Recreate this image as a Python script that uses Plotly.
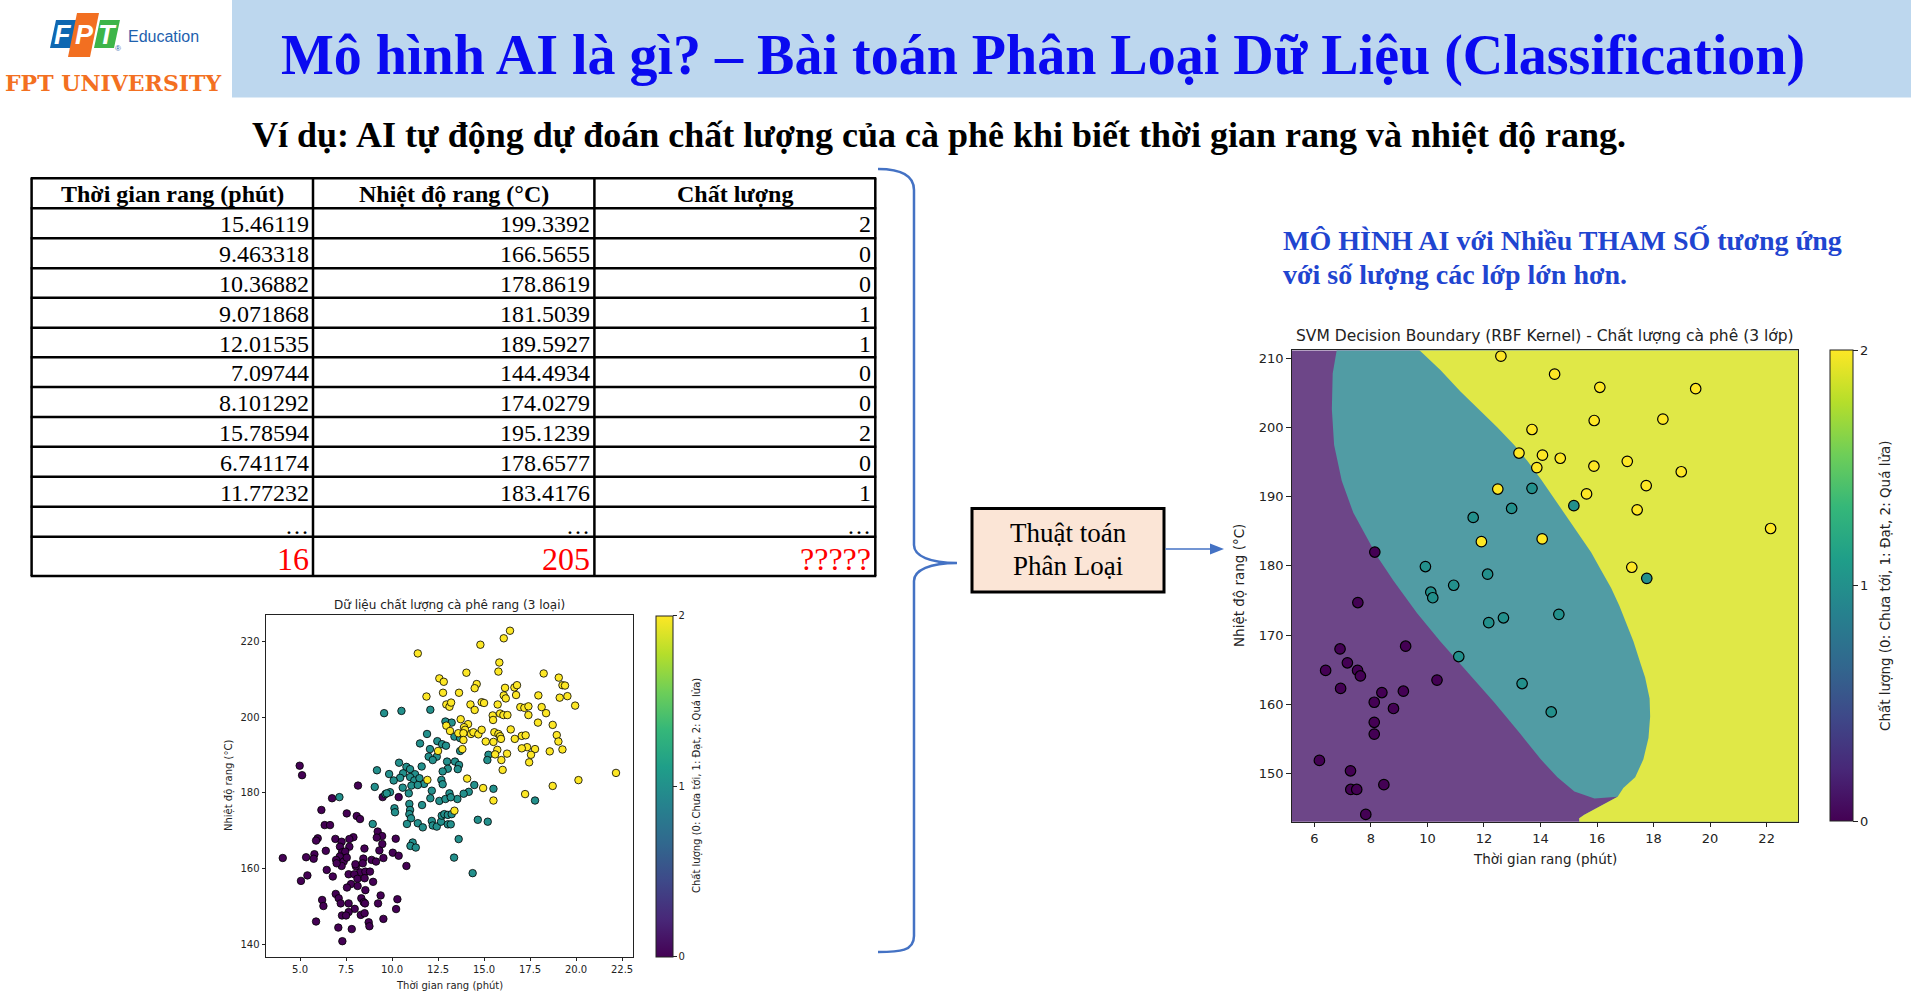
import plotly.graph_objects as go

W, H = 1911, 995
def fx(x): return x / W
def fy(y): return 1 - y / H

# ---------------- table data ----------------
table_headers = ["Thời gian rang (phút)", "Nhiệt độ rang (°C)", "Chất lượng"]
roast_time = ["15.46119", "9.463318", "10.36882", "9.071868", "12.01535", "7.09744",
              "8.101292", "15.78594", "6.741174", "11.77232", "…"]
roast_temp = ["199.3392", "166.5655", "178.8619", "181.5039", "189.5927", "144.4934",
              "174.0279", "195.1239", "178.6577", "183.4176", "…"]
quality = ["2", "0", "0", "1", "1", "0", "0", "2", "0", "1", "…"]
query_row = ["16", "205", "?????"]

# ---------------- small scatter (full data set) ----------------
s0_x = [4.98, 5.11, 8.15, 6.74, 9.49, 10.36, 6.16, 7.54, 8.08, 8.26, 6.34, 6.63, 9.22, 9.46, 9.17,
        10.20, 7.90, 7.68, 5.96, 5.87, 6.92, 7.26, 7.17, 7.68, 9.47, 8.50, 6.40, 7.28, 7.46, 9.31,
        10.04, 10.36, 5.78, 5.33, 5.74, 4.06, 7.16, 6.96, 7.37, 7.54, 8.44, 8.89, 9.13, 9.53, 7.26,
        6.99, 8.04, 8.01, 8.41, 8.26, 8.55, 8.80, 6.45, 6.78, 7.64, 7.95, 8.12, 8.51, 8.97, 10.78,
        5.40, 5.05, 7.77, 7.55, 8.13, 8.55, 6.94, 7.10, 6.20, 6.27, 7.21, 7.64, 8.33, 8.46, 8.53,
        9.24, 9.38, 10.29, 10.22, 7.97, 7.64, 7.28, 7.50, 8.30, 8.51, 9.53, 5.87, 8.73, 8.77, 7.08,
        7.81, 7.30]
s0_y = [187.2, 184.7, 181.95, 178.6, 178.9, 178.9, 175.5, 174.6, 173.9, 173.1, 171.5, 171.5, 169.8,
        168.6, 168.2, 167.9, 168.3, 167.8, 168.0, 167.4, 167.85, 167.1, 165.8, 165.8, 166.5, 165.3,
        164.7, 164.3, 164.5, 164.8, 164.2, 163.4, 163.8, 163.0, 162.6, 162.8, 163.2, 162.3, 161.85,
        162.9, 162.65, 162.3, 161.85, 162.8, 160.7, 161.4, 160.6, 161.15, 161.4, 159.0, 159.2, 159.2,
        159.65, 157.9, 158.5, 158.5, 157.3, 157.45, 156.5, 160.7, 158.2, 156.75, 155.9, 155.0, 155.4,
        154.3, 153.3, 152.15, 151.7, 150.1, 150.8, 150.8, 152.15, 151.1, 150.8, 150.8, 152.9, 151.9,
        149.3, 149.35, 148.5, 147.6, 147.6, 147.75, 148.2, 146.7, 146.0, 145.8, 144.75, 144.4, 144.0,
        140.8]

s1_x = [9.57, 10.51, 12.08, 12.90, 11.90, 11.52, 12.46, 12.72, 12.93, 12.06, 11.99, 12.43, 12.21,
        12.99, 13.03, 12.75, 10.38, 11.61, 10.78, 10.98, 9.18, 9.84, 10.60, 11.25, 10.98, 10.44,
        10.09, 11.21, 11.49, 11.74, 12.68, 12.75, 11.05, 11.40, 10.58, 9.06,
        13.24, 13.39, 13.70, 13.70, 15.24, 15.18, 13.42, 13.64, 13.57,
        9.64, 9.89, 9.71, 10.91, 11.63, 12.08, 12.16, 12.57, 12.90, 13.12, 10.94, 10.13, 10.16,
        10.98, 10.94, 11.03, 10.81, 11.40, 11.67, 12.16, 12.21, 12.43, 12.66, 12.70, 12.84, 13.03,
        13.03, 8.95, 11.12, 11.00, 11.29, 7.14,
        14.47, 15.51, 14.17, 13.89, 13.55, 13.19, 13.24, 14.66, 15.20, 13.19, 13.62, 13.37, 14.38,
        17.77]
s1_y = [201.1, 201.7, 202.0, 198.9, 195.6, 193.1, 193.7, 192.9, 192.5, 191.6, 189.6, 189.6, 188.7,
        188.3, 186.4, 185.7, 188.0, 187.0, 186.9, 186.3, 186.0, 185.0, 185.2, 184.95, 184.2, 184.0,
        183.3, 183.3, 183.9, 182.4, 183.45, 182.3, 181.95, 182.1, 181.4, 181.6,
        198.6, 194.9, 194.5, 191.1, 190.1, 188.7, 188.3, 187.4, 186.3,
        179.7, 180.2, 179.9, 179.9, 176.8, 178.6, 180.6, 177.9, 178.4, 179.9, 177.1, 175.95, 174.9,
        175.5, 174.4, 173.3, 171.8, 172.0, 170.9, 172.6, 171.4, 171.1, 172.4, 174.0, 174.4, 174.2,
        171.7, 171.8, 166.9, 166.0, 165.56, 178.9,
        182.1, 181.1, 180.3, 179.8, 178.4, 178.86, 174.4, 172.9, 172.4, 171.7, 167.8, 162.9, 158.8,
        178.0]

s2_x = [11.40, 12.57, 12.81, 11.87, 12.77, 12.95, 13.12, 12.95, 13.15, 12.50, 11.92,
        16.41, 16.07, 14.80, 15.83, 15.78, 14.04, 18.24, 19.06, 19.26, 19.40, 14.60, 14.49, 16.14,
        16.65, 16.79, 13.64, 16.07, 16.18, 16.74, 17.95, 19.11, 19.53, 13.21, 14.26, 14.49, 14.87,
        15.00, 15.74, 16.97, 17.19, 17.41, 18.13, 18.37, 19.95, 15.47, 15.49, 15.87, 16.05, 16.27,
        17.41, 13.73, 14.13, 13.91, 13.97, 17.93, 18.73, 16.45, 13.60, 13.88, 14.29, 14.42, 14.69,
        14.87, 15.56, 15.78, 15.87, 17.05, 17.26, 16.67, 15.09, 15.51, 15.92, 18.95, 19.04, 13.88,
        17.34, 17.05, 17.77, 15.72, 16.25, 15.60, 18.57, 19.26, 17.55, 15.94, 17.45, 16.01, 22.17,
        20.13, 14.08, 13.82,
        14.95, 17.23, 15.51, 13.39, 18.73]
s2_y = [216.9, 210.3, 209.4, 205.5, 206.5, 203.4, 202.8, 197.8, 196.4, 191.1, 183.45,
        222.9, 220.9, 219.2, 214.5, 212.1, 211.8, 211.6, 210.5, 208.5, 208.4, 208.8, 207.7, 207.8,
        207.9, 208.5, 206.5, 205.8, 205.0, 205.9, 205.8, 205.2, 205.6, 203.9, 203.4, 201.95, 204.0,
        203.8, 203.4, 202.7, 202.5, 202.9, 202.7, 201.1, 203.1, 200.5, 199.3, 201.0, 200.6, 200.6,
        200.6, 199.5, 198.2, 197.4, 196.7, 198.6, 198.0, 196.8, 195.8, 195.8, 195.6, 196.05, 195.5,
        196.7, 196.05, 195.6, 195.0, 195.1, 195.25, 194.3, 193.6, 193.5, 194.3, 195.3, 193.6, 194.0,
        192.1, 191.8, 191.6, 191.4, 190.4, 190.2, 191.0, 191.5, 190.1, 188.7, 188.1, 186.1, 185.3,
        183.4, 183.8, 191.6,
        181.3, 179.7, 178.0, 175.3, 181.86]

small_xticks = [5.0, 7.5, 10.0, 12.5, 15.0, 17.5, 20.0, 22.5]
small_xticklabels = ["5.0", "7.5", "10.0", "12.5", "15.0", "17.5", "20.0", "22.5"]
small_yticks = [140, 160, 180, 200, 220]

# ---------------- SVM test points ----------------
t0_x = [8.14, 7.54, 9.23, 6.91, 7.17, 6.40, 7.53, 7.63, 6.93, 10.34, 8.39, 9.15, 8.12, 8.80, 8.12,
        8.12, 6.18, 7.28, 7.29, 7.50, 8.46, 7.82]
t0_y = [182.0, 174.7, 168.4, 168.0, 166.0, 164.9, 164.9, 164.1, 162.3, 163.5, 161.7, 161.9, 160.3,
        159.4, 157.4, 155.7, 151.9, 150.4, 147.7, 147.7, 148.4, 144.1]
t1_x = [13.70, 12.98, 15.18, 11.62, 9.93, 12.13, 10.93, 10.12, 10.19, 14.65, 12.69, 12.17, 11.11,
        13.35, 14.38, 17.76]
t1_y = [191.2, 188.3, 188.7, 187.0, 179.9, 178.8, 177.2, 176.2, 175.4, 173.0, 172.5, 171.8, 166.9,
        163.0, 158.9, 178.2]
t2_x = [12.6, 14.5, 16.1, 15.9, 13.7, 13.24, 14.07, 14.70, 13.87, 15.89, 17.07, 15.63, 12.49, 11.91,
        14.06, 17.23, 17.42, 19.49, 18.33, 18.98, 17.74, 22.14]
t2_y = [210.3, 207.7, 205.8, 201.0, 199.7, 196.3, 196.0, 195.55, 194.2, 194.4, 195.1, 190.4, 191.1,
        183.5, 183.9, 179.8, 188.1, 205.6, 201.2, 193.6, 191.6, 185.4]

big_xticks = [6, 8, 10, 12, 14, 16, 18, 20, 22]
big_yticks = [150, 160, 170, 180, 190, 200, 210]

# decision boundaries
pt_x = [6.80, 6.79, 6.65, 6.62, 6.70, 6.97, 7.38, 7.86, 8.21, 8.80, 9.63, 10.46, 11.41, 12.36,
        13.30, 14.01, 14.60, 15.20, 15.91, 16.73]
pt_y = [212.0, 211.13, 207.78, 202.62, 197.46, 192.31, 187.66, 184.05, 181.47, 177.86, 173.21,
        169.08, 164.70, 160.31, 155.67, 152.05, 149.47, 147.41, 146.38, 146.64]
ty_x = [9.50, 9.73, 10.46, 11.17, 11.88, 12.47, 13.07, 13.54, 14.01, 14.49, 14.96, 15.37, 15.79,
        16.14, 16.50, 16.79, 17.05, 17.29, 17.53, 17.70, 17.86, 17.88, 17.82, 17.64, 17.35, 16.93,
        16.73]
ty_y = [212.0, 211.13, 208.30, 205.20, 202.36, 200.04, 197.46, 195.14, 192.56, 189.72, 186.88,
        184.56, 181.98, 179.40, 176.82, 174.24, 171.66, 169.08, 165.99, 163.92, 160.83, 158.25,
        155.15, 152.05, 149.47, 147.93, 146.64]
py_x = [16.14, 15.55, 15.37, 15.37]
py_y = [145.35, 144.06, 143.54, 142.5]
outer_x = [24.0, 24.0]
outer_y = [142.5, 212.0]

# ---------------- styles ----------------
PURPLE_BG = "#6D4688"
TEAL_BG = "#519CA4"
YELLOW_BG = "#E0E847"
DV = "DejaVu Sans"
SERIF = "Liberation Serif"

fig = go.Figure()

# small scatter
sx = s0_x + s1_x + s2_x
sy = s0_y + s1_y + s2_y
sc = [0] * len(s0_x) + [1] * len(s1_x) + [2] * len(s2_x)
fig.add_trace(go.Scatter(
    x=sx, y=sy, mode="markers", xaxis="x", yaxis="y", hoverinfo="skip",
    marker=dict(size=7.5, color=sc, colorscale="Viridis", cmin=0, cmax=2,
                line=dict(color="black", width=0.8), showscale=True,
                colorbar=dict(x=fx(655.7), xanchor="left", y=fy(615.7), yanchor="top",
                              len=(956.7 - 615.7) / H, lenmode="fraction",
                              thickness=17, thicknessmode="pixels", xpad=0, ypad=0,
                              outlinewidth=1, outlinecolor="#222",
                              tickvals=[0, 1, 2], ticks="outside", ticklen=3.5, tickwidth=1,
                              tickcolor="#222", tickfont=dict(family=DV, size=10, color="#222")))))

# decision regions
fig.add_trace(go.Scatter(x=pt_x + py_x + outer_x, y=pt_y + py_y + outer_y, fill="toself",
                         fillcolor=TEAL_BG, mode="lines", line=dict(width=0),
                         xaxis="x2", yaxis="y2", hoverinfo="skip"))
fig.add_trace(go.Scatter(x=ty_x + py_x + outer_x, y=ty_y + py_y + outer_y, fill="toself",
                         fillcolor=YELLOW_BG, mode="lines", line=dict(width=0),
                         xaxis="x2", yaxis="y2", hoverinfo="skip"))

tx = t0_x + t1_x + t2_x
ty = t0_y + t1_y + t2_y
tc = [0] * len(t0_x) + [1] * len(t1_x) + [2] * len(t2_x)
fig.add_trace(go.Scatter(
    x=tx, y=ty, mode="markers", xaxis="x2", yaxis="y2", hoverinfo="skip",
    marker=dict(size=10.5, color=tc, colorscale="Viridis", cmin=0, cmax=2,
                line=dict(color="black", width=1.2), showscale=True,
                colorbar=dict(x=fx(1830), xanchor="left", y=fy(350.4), yanchor="top",
                              len=(821.8 - 350.4) / H, lenmode="fraction",
                              thickness=23, thicknessmode="pixels", xpad=0, ypad=0,
                              outlinewidth=1, outlinecolor="#222",
                              tickvals=[0, 1, 2], ticks="outside", ticklen=4.5, tickwidth=1.2,
                              tickcolor="#222", tickfont=dict(family=DV, size=13, color="#222")))))

axis_common = dict(showline=True, mirror=True, linecolor="#222", linewidth=1, ticks="outside",
                   tickcolor="#222", tickwidth=1, showgrid=False, zeroline=False)

fig.update_layout(
    width=W, height=H, margin=dict(l=0, r=0, t=0, b=0), autosize=False,
    paper_bgcolor="white", plot_bgcolor="white", showlegend=False,
    xaxis=dict(domain=[fx(266), fx(633.3)], range=[3.15, 23.11], anchor="y",
               tickvals=small_xticks, ticktext=small_xticklabels, ticklen=3.5,
               tickfont=dict(family=DV, size=10, color="#222"), **axis_common),
    yaxis=dict(domain=[fy(956.7), fy(615)], range=[136.7, 227.06], anchor="x",
               tickvals=small_yticks, ticklen=3.5,
               tickfont=dict(family=DV, size=10, color="#222"), **axis_common),
    xaxis2=dict(domain=[fx(1291.7), fx(1798.3)], range=[5.2, 23.12], anchor="y2",
                tickvals=big_xticks, ticklen=4.5,
                tickfont=dict(family=DV, size=13, color="#222"), **axis_common),
    yaxis2=dict(domain=[fy(821.8), fy(350.4)], range=[143.03, 211.13], anchor="x2",
                tickvals=big_yticks, ticklen=4.5,
                tickfont=dict(family=DV, size=13, color="#222"), **axis_common),
)

shapes = []
annotations = []

def txt(x, y, s, size, color="black", family=SERIF, xanchor="center", yanchor="middle", angle=0):
    annotations.append(dict(x=fx(x), y=fy(y), xref="paper", yref="paper", text=s,
                            showarrow=False, xanchor=xanchor, yanchor=yanchor, textangle=angle,
                            font=dict(family=family, size=size, color=color)))

def poly(points, fill, line_color=None, width=0, layer="above"):
    d = "M " + " L ".join(f"{fx(a):.5f},{fy(b):.5f}" for a, b in points) + " Z"
    shapes.append(dict(type="path", path=d, xref="paper", yref="paper", fillcolor=fill,
                       line=dict(color=line_color or fill, width=width), layer=layer))

def line(x0, y0, x1, y1, color="black", width=2.5):
    shapes.append(dict(type="line", xref="paper", yref="paper", x0=fx(x0), y0=fy(y0),
                       x1=fx(x1), y1=fy(y1), line=dict(color=color, width=width)))

# purple decision background
shapes.append(dict(type="rect", xref="x2 domain", yref="y2 domain", x0=0, x1=1, y0=0, y1=1,
                   fillcolor=PURPLE_BG, line=dict(width=0), layer="below"))

# header band
shapes.append(dict(type="rect", xref="paper", yref="paper", x0=fx(232), x1=1, y0=fy(97.5), y1=1,
                   fillcolor="#BDD7EE", line=dict(width=0), layer="below"))

# logo
poly([(56, 20), (78, 20), (72, 48), (50, 48)], "#0F67B1")
poly([(100, 20), (120, 20), (114, 48), (94, 48)], "#3DB549")
poly([(77, 13), (99, 13), (90, 57), (68, 57)], "#F26F21")
txt(63, 35, "<b><i>F</i></b>", 27, "white", "Liberation Sans")
txt(84, 35, "<b><i>P</i></b>", 27, "white", "Liberation Sans")
txt(107, 35, "<b><i>T</i></b>", 27, "white", "Liberation Sans")
txt(118, 49, "®", 8, "#1E61AE", "Liberation Sans")
txt(126, 37, "Education", 16, "#1E61AE", "Liberation Sans", xanchor="left")
txt(113, 83, "<b>FPT UNIVERSITY</b>", 22, "#F37021", "DejaVu Serif")

# titles
txt(1043, 55, "<b>Mô hình AI là gì? – Bài toán Phân Loại Dữ Liệu (Classification)</b>", 56, "#0A0AF0")
txt(939, 135, "<b>Ví dụ: AI tự động dự đoán chất lượng của cà phê khi biết thời gian rang và nhiệt độ rang.</b>", 36, "black")

# table
col_edges = [31.6, 313, 594.4, 875.3]
row_edges = [178.3, 208.3, 238.3, 268.3, 297.7, 327.7, 357.3, 387, 417, 446.7, 476.7, 506.7, 536.7, 576]
for yv in row_edges:
    line(col_edges[0] - 1, yv, col_edges[-1] + 1, yv, width=2.5)
for xv in col_edges:
    line(xv, row_edges[0], xv, row_edges[-1], width=2.5)
for i, h in enumerate(table_headers):
    txt((col_edges[i] + col_edges[i + 1]) / 2, (row_edges[0] + row_edges[1]) / 2 + 1, f"<b>{h}</b>", 24)
columns = [roast_time, roast_temp, quality]
for r in range(len(roast_time)):
    yc = (row_edges[r + 1] + row_edges[r + 2]) / 2 + 1
    if r == len(roast_time) - 1:
        yc += 3
    for c, col in enumerate(columns):
        txt(col_edges[c + 1] - 2, yc, col[r], 24, xanchor="right")
yq = (row_edges[-2] + row_edges[-1]) / 2 + 3
for c, v in enumerate(query_row):
    txt(col_edges[c + 1] - 2, yq, v, 32, "#FF0000", xanchor="right")

# brace
bp = [(878, 169), (900, 169), (914, 175), (914, 190), (914, 545), (914, 556), (930, 563), (957, 563),
      (930, 563), (914, 570), (914, 581), (914, 936), (914, 951), (900, 952), (878, 952)]
P = [f"{fx(a):.5f},{fy(b):.5f}" for a, b in bp]
brace_path = (f"M {P[0]} C {P[1]} {P[2]} {P[3]} L {P[4]} C {P[5]} {P[6]} {P[7]} "
              f"C {P[8]} {P[9]} {P[10]} L {P[11]} C {P[12]} {P[13]} {P[14]}")
shapes.append(dict(type="path", path=brace_path, xref="paper", yref="paper",
                   line=dict(color="#4472C4", width=2.5)))

# algorithm box + arrow
shapes.append(dict(type="rect", xref="paper", yref="paper", x0=fx(972), x1=fx(1164),
                   y0=fy(592), y1=fy(508.5), fillcolor="#FBE5D6", line=dict(color="black", width=3)))
txt(1068, 533, "Thuật toán", 27)
txt(1068, 566, "Phân Loại", 27)
line(1165.5, 549, 1212, 549, color="#4472C4", width=1.3)
poly([(1210, 543.5), (1224, 549), (1210, 554.5)], "#4472C4")

# blue note
txt(1281, 241, "<b>MÔ HÌNH AI với Nhiều THAM SỐ tương ứng</b>", 28, "#1F45D0", xanchor="left")
txt(1281, 274.5, "<b>với số lượng các lớp lớn hơn.</b>", 28, "#1F45D0", xanchor="left")

# chart texts (matplotlib-style titles / labels)
txt(449.7, 605, "Dữ liệu chất lượng cà phê rang (3 loại)", 12, "#222", DV)
txt(449.7, 985, "Thời gian rang (phút)", 10, "#222", DV)
txt(229, 786, "Nhiệt độ rang (°C)", 10, "#222", DV, angle=-90)
txt(697, 786, "Chất lượng (0: Chưa tới, 1: Đạt, 2: Quá lửa)", 10, "#222", DV, angle=-90)

txt(1545, 336, "SVM Decision Boundary (RBF Kernel) - Chất lượng cà phê (3 lớp)", 15.5, "#222", DV)
txt(1545, 859, "Thời gian rang (phút)", 13.5, "#222", DV)
txt(1239, 586, "Nhiệt độ rang (°C)", 13.5, "#222", DV, angle=-90)
txt(1885, 586, "Chất lượng (0: Chưa tới, 1: Đạt, 2: Quá lửa)", 13.5, "#222", DV, angle=-90)

fig.update_layout(shapes=shapes, annotations=annotations)
fig.write_html("out.html", config={"displayModeBar": False})
